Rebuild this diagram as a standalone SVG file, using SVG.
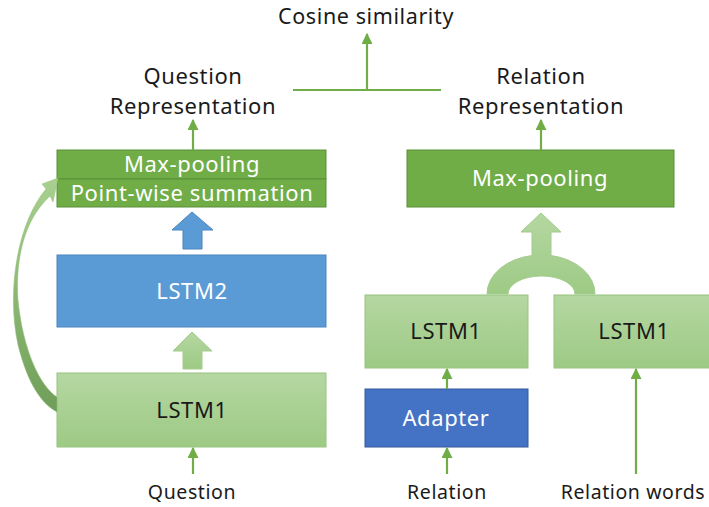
<svg xmlns="http://www.w3.org/2000/svg" width="709" height="507" viewBox="0 0 709 507">
<defs>
<linearGradient id="lg" x1="0" y1="0" x2="0" y2="1"><stop offset="0" stop-color="#b5d7a2"/><stop offset="1" stop-color="#9dca84"/></linearGradient>
<linearGradient id="cg" x1="0" y1="0" x2="0" y2="1"><stop offset="0" stop-color="#a8d18f"/><stop offset="1" stop-color="#6f9e58"/></linearGradient>
<marker id="ah" viewBox="0 0 10 10" refX="9" refY="5" markerWidth="5" markerHeight="5" orient="auto"><path d="M0,0 L10,5 L0,10 Z" fill="#70ad47"/></marker>
</defs>
<style>
text{font-family:"Noto Sans","Open Sans",sans-serif;text-anchor:middle;letter-spacing:0.6px}
.lbl{font-size:22px;fill:#1a1a1a}
.sm{font-size:19.5px;fill:#1a1a1a}
.w{fill:#ffffff;font-size:22px}
.k{fill:#1a1a1a;font-size:22px}
.dg{fill:#70ad47;stroke:#5a8f38;stroke-width:1}
.lgb{fill:url(#lg);stroke:#97c47e;stroke-width:1}
.ln{stroke:#70ad47;stroke-width:2.2;fill:none}
.ar{stroke:#70ad47;stroke-width:2.2;fill:none;marker-end:url(#ah)}
</style>
<rect width="709" height="507" fill="#ffffff"/>

<g id="cosine">
<text class="lbl" x="366" y="24" style="font-size:21.5px">Cosine similarity</text>
</g>
<g id="question-representation">
<text class="lbl" x="193" y="84">Question</text>
<text class="lbl" x="193" y="114">Representation</text>
</g>
<g id="relation-representation">
<text class="lbl" x="541" y="84">Relation</text>
<text class="lbl" x="541" y="114">Representation</text>
</g>

<g id="q-maxpool">
<rect class="dg" x="57" y="150" width="269" height="29"/>
<text class="w" x="192" y="172">Max-pooling</text>
</g>
<g id="q-sum">
<rect class="dg" x="57" y="179" width="269" height="28"/>
<text class="w" x="192" y="201">Point-wise summation</text>
</g>
<g id="q-lstm2">
<rect x="57" y="255" width="269" height="72" fill="#5b9bd5" stroke="#4a86be" stroke-width="1"/>
<text class="w" x="192" y="299">LSTM2</text>
</g>
<g id="q-lstm1">
<rect class="lgb" x="57" y="373" width="269" height="74"/>
<text class="k" x="192" y="418">LSTM1</text>
</g>
<g id="question">
<text class="sm" x="192" y="499">Question</text>
</g>

<g id="r-maxpool">
<rect class="dg" x="407" y="150" width="267" height="57"/>
<text class="w" x="540" y="186">Max-pooling</text>
</g>
<g id="r-lstm1a">
<rect class="lgb" x="365" y="295" width="163" height="73"/>
<text class="k" x="446" y="339">LSTM1</text>
</g>
<g id="r-lstm1b">
<rect class="lgb" x="554" y="295" width="160" height="73"/>
<text class="k" x="634" y="339">LSTM1</text>
</g>
<g id="adapter">
<rect x="365" y="389" width="163" height="58" fill="#4472c4" stroke="#34589a" stroke-width="1"/>
<text class="w" x="446" y="426">Adapter</text>
</g>
<g id="relation">
<text class="sm" x="447" y="499">Relation</text>
</g>
<g id="relation-words">
<text class="sm" x="633" y="499">Relation words</text>
</g>

<g id="connectors">
<line class="ar" x1="193" y1="150" x2="193" y2="120"/>
<line class="ar" x1="541" y1="150" x2="541" y2="120"/>
<line class="ln" x1="293" y1="90" x2="441" y2="90"/>
<line class="ar" x1="367" y1="90" x2="367" y2="34"/>
<line class="ar" x1="193" y1="474" x2="193" y2="448"/>
<line class="ar" x1="447" y1="474" x2="447" y2="448"/>
<line class="ar" x1="447" y1="389" x2="447" y2="369"/>
<line class="ar" x1="636" y1="474" x2="636" y2="369"/>
<path d="M192,212 L213,230 L202,230 L202,249 L183,249 L183,230 L172,230 Z" fill="#5b9bd5" stroke="#4a86be" stroke-width="1"/>
<path d="M192,332 L212,351 L202,351 L202,369 L183,369 L183,351 L173,351 Z" fill="url(#lg)" stroke="#a3cc8c" stroke-width="1"/>
<path d="M541,213 L561,232 L551,232 L551,255.5 A54,39 0 0 1 595,294 L575,294 A33.5,18 0 0 0 508,294 L487,294 A54,39 0 0 1 532,255.5 L532,232 L521,232 Z" fill="url(#lg)" stroke="#a3cc8c" stroke-width="1"/>
<path d="M58,178 L42,184 L46,189 C18,222 6,290 18,345 C28,385 42,404 57,412 L57,397 C40,386 23,350 18,300 C15,255 26,218 50,196 L53,202 Z" fill="url(#cg)" stroke="#95c07c" stroke-width="0.5"/>
</g>
</svg>
